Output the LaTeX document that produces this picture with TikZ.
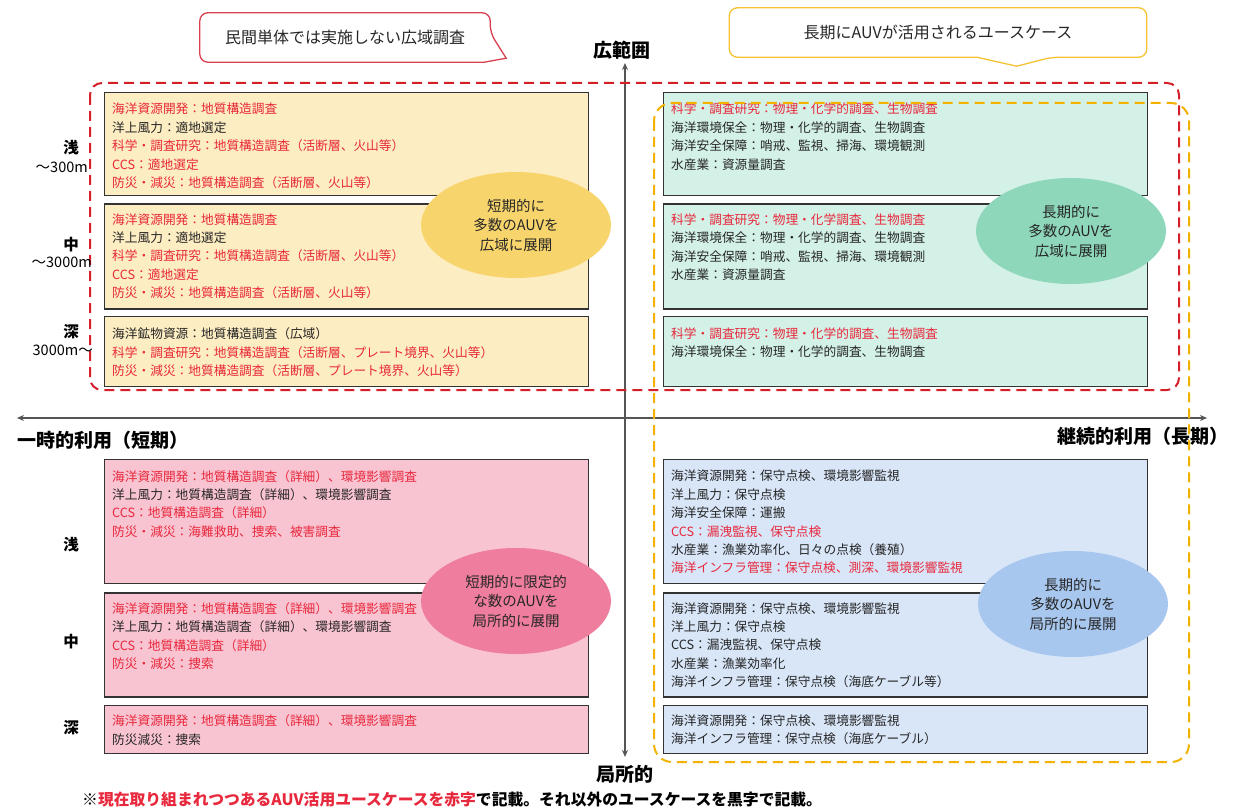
\documentclass[tikz,border=0pt]{standalone}
\usepackage{fontspec}
\setmainfont{Noto Sans CJK JP}
\usetikzlibrary{
  arrows.meta,
  positioning,
  shapes.geometric,
  calc
}
\usepackage{xcolor}
\definecolor{usered}{HTML}{E8283C}
\definecolor{dashred}{HTML}{D41F2B}
\definecolor{dashyel}{HTML}{F2B300}
\definecolor{boxline}{HTML}{333333}
\definecolor{txtgray}{HTML}{262626}
\definecolor{axisgray}{HTML}{555555}
\definecolor{yfill}{HTML}{FDEDC2}
\definecolor{gfill}{HTML}{D3F1E6}
\definecolor{pfill}{HTML}{F9C4D2}
\definecolor{bfill}{HTML}{D8E6F8}
\definecolor{yblob}{HTML}{F8D56C}
\definecolor{gblob}{HTML}{8ED7BB}
\definecolor{pblob}{HTML}{EF7E9E}
\definecolor{bblob}{HTML}{A8C7EF}
\definecolor{calred}{HTML}{D9404F}
\definecolor{calyel}{HTML}{F5C232}
\newcommand{\redtxt}[1]{\textcolor{usered}{#1}}

\begin{document}
\begin{tikzpicture}[
  x=1pt, y=-1pt,
  cell/.style={draw=boxline, line width=1.3pt, minimum width=484pt, inner sep=0pt,
    anchor=north west},
  list/.style={font=\fontsize{12.7}{18.4}\selectfont, text=txtgray, align=left,
    inner sep=0pt, anchor=north west},
  blob/.style={ellipse, minimum width=190pt, minimum height=106pt, inner sep=0pt,
    font=\fontsize{14.5}{19.5}\selectfont, align=center, text=txtgray},
  axis/.style={draw=axisgray, line width=1.3pt,
    {Stealth[length=7pt,width=6pt]}-{Stealth[length=7pt,width=6pt]}},
  axlabel/.style={font=\fontsize{19}{22}\selectfont\bfseries, inner sep=0pt},
  depth/.style={font=\fontsize{15.5}{17}\selectfont\bfseries, inner sep=0pt, anchor=east},
  meter/.style={font=\fontsize{14.5}{16}\selectfont, inner sep=0pt, anchor=east},
  region/.style={dash pattern=on 10pt off 6pt, line width=2pt},
  bubble/.style={font=\fontsize{16}{18}\selectfont, text=txtgray, inner sep=0pt}
]
  \useasboundingbox (0,0) rectangle (1236,810);

  % Axes
  \coordinate (top) at (625,63);
  \coordinate (bot) at (625,757);
  \coordinate (lft) at (17,418);
  \coordinate (rgt) at (1207,418);
  \draw[axis] (bot) -- (top);
  \draw[axis] (lft) -- (rgt);
  \node[axlabel] (wide) at (622,50) {広範囲};
  \node[axlabel] (local) at (625,774) {局所的};
  \node[axlabel, anchor=west] (short) at (17,440) {一時的利用（短期）};
  \node[axlabel, anchor=east] (long) at (1229,436) {継続的利用（長期）};

  % Upper left: short term, wide area
  \node[cell, fill=yfill, minimum height=103pt] (ul1) at (104,92) {};
  \node[cell, fill=yfill, minimum height=105pt, below right=7pt and 0pt of ul1.south west] (ul2) {};
  \node[cell, fill=yfill, minimum height=70pt, below right=6pt and 0pt of ul2.south west] (ul3) {};
  \node[list, below right=11pt and 8pt of ul1.north west] (ul1t) {
    \redtxt{海洋資源開発：地質構造調査}\\
    洋上風力：適地選定\\
    \redtxt{科学・調査研究：地質構造調査（活断層、火山等）}\\
    \redtxt{CCS：適地選定}\\
    \redtxt{防災・減災：地質構造調査（活断層、火山等）}};
  \node[list, below right=10pt and 8pt of ul2.north west] (ul2t) {
    \redtxt{海洋資源開発：地質構造調査}\\
    洋上風力：適地選定\\
    \redtxt{科学・調査研究：地質構造調査（活断層、火山等）}\\
    \redtxt{CCS：適地選定}\\
    \redtxt{防災・減災：地質構造調査（活断層、火山等）}};
  \node[list, below right=12pt and 8pt of ul3.north west] (ul3t) {
    海洋鉱物資源：地質構造調査（広域）\\
    \redtxt{科学・調査研究：地質構造調査（活断層、プレート境界、火山等）}\\
    \redtxt{防災・減災：地質構造調査（活断層、プレート境界、火山等）}};

  % Upper right: long term, wide area
  \node[cell, fill=gfill, minimum height=103pt] (ur1) at (663,92) {};
  \node[cell, fill=gfill, minimum height=105pt, below right=7pt and 0pt of ur1.south west] (ur2) {};
  \node[cell, fill=gfill, minimum height=70pt, below right=6pt and 0pt of ur2.south west] (ur3) {};
  \node[list, below right=11pt and 8pt of ur1.north west] (ur1t) {
    \redtxt{科学・調査研究：物理・化学的調査、生物調査}\\
    海洋環境保全：物理・化学的調査、生物調査\\
    海洋安全保障：哨戒、監視、掃海、環境観測\\
    水産業：資源量調査};
  \node[list, below right=10pt and 8pt of ur2.north west] (ur2t) {
    \redtxt{科学・調査研究：物理・化学調査、生物調査}\\
    海洋環境保全：物理・化学的調査、生物調査\\
    海洋安全保障：哨戒、監視、掃海、環境観測\\
    水産業：資源量調査};
  \node[list, below right=12pt and 8pt of ur3.north west] (ur3t) {
    \redtxt{科学・調査研究：物理・化学的調査、生物調査}\\
    海洋環境保全：物理・化学的調査、生物調査};

  % Lower left: short term, local
  \node[cell, fill=pfill, minimum height=124pt] (ll1) at (104,459) {};
  \node[cell, fill=pfill, minimum height=104pt, below right=8pt and 0pt of ll1.south west] (ll2) {};
  \node[cell, fill=pfill, minimum height=48pt, below right=7pt and 0pt of ll2.south west] (ll3) {};
  \node[list, below right=11pt and 8pt of ll1.north west] (ll1t) {
    \redtxt{海洋資源開発：地質構造調査（詳細）、環境影響調査}\\
    洋上風力：地質構造調査（詳細）、環境影響調査\\
    \redtxt{CCS：地質構造調査（詳細）}\\
    \redtxt{防災・減災：海難救助、捜索、被害調査}};
  \node[list, below right=10pt and 8pt of ll2.north west] (ll2t) {
    \redtxt{海洋資源開発：地質構造調査（詳細）、環境影響調査}\\
    洋上風力：地質構造調査（詳細）、環境影響調査\\
    \redtxt{CCS：地質構造調査（詳細）}\\
    \redtxt{防災・減災：捜索}};
  \node[list, below right=10pt and 8pt of ll3.north west] (ll3t) {
    \redtxt{海洋資源開発：地質構造調査（詳細）、環境影響調査}\\
    防災減災：捜索};

  % Lower right: long term, local
  \node[cell, fill=bfill, minimum height=124pt] (lr1) at (663,459) {};
  \node[cell, fill=bfill, minimum height=104pt, below right=8pt and 0pt of lr1.south west] (lr2) {};
  \node[cell, fill=bfill, minimum height=48pt, below right=7pt and 0pt of lr2.south west] (lr3) {};
  \node[list, below right=11pt and 8pt of lr1.north west] (lr1t) {
    海洋資源開発：保守点検、環境影響監視\\
    洋上風力：保守点検\\
    海洋安全保障：運搬\\
    \redtxt{CCS：漏洩監視、保守点検}\\
    水産業：漁業効率化、日々の点検（養殖）\\
    \redtxt{海洋インフラ管理：保守点検、測深、環境影響監視}};
  \node[list, below right=10pt and 8pt of lr2.north west] (lr2t) {
    海洋資源開発：保守点検、環境影響監視\\
    洋上風力：保守点検\\
    CCS：漏洩監視、保守点検\\
    水産業：漁業効率化\\
    海洋インフラ管理：保守点検（海底ケーブル等）};
  \node[list, below right=10pt and 8pt of lr3.north west] (lr3t) {
    海洋資源開発：保守点検、環境影響監視\\
    海洋インフラ管理：保守点検（海底ケーブル）};

  % Deployment ellipses
  \node[blob, fill=yblob] (yb) at (516,225) {短期的に\\多数のAUVを\\広域に展開};
  \node[blob, fill=gblob] (gb) at (1071,231) {長期的に\\多数のAUVを\\広域に展開};
  \node[blob, fill=pblob] (pb) at (516,601) {短期的に限定的\\な数のAUVを\\局所的に展開};
  \node[blob, fill=bblob] (bb) at (1073,604) {長期的に\\多数のAUVを\\局所的に展開};

  % Dashed regions
  \draw[region, draw=dashred, rounded corners=12pt] (90,83) rectangle (1179,390);
  \draw[region, draw=dashyel, rounded corners=18pt] (654,103) rectangle (1189,762);

  % Depth labels
  \node[depth] (d1) at (79,148) {浅};
  \node[meter] (m1) at (88,167) {～300m};
  \node[depth] (d2) at (79,245) {中};
  \node[meter] (m2) at (92,262) {～3000m};
  \node[depth] (d3) at (79,332) {深};
  \node[meter] (m3) at (93,350) {3000m～};
  \node[depth] (d4) at (79,545) {浅};
  \node[depth] (d5) at (79,642) {中};
  \node[depth] (d6) at (79,728) {深};

  % Callouts
  \node[bubble, minimum width=290pt, minimum height=49pt] (cr) at (345,37.5)
    {民間単体では実施しない広域調査};
  \draw[calred, line width=1.3pt, rounded corners=8pt]
    ([xshift=10pt]cr.south west) -- (cr.south west) -- (cr.north west)
    -- (cr.north east) -- ([yshift=-20pt]cr.north east) [sharp corners]
    -- ([xshift=16pt,yshift=4pt]cr.south east) -- ([xshift=-6pt]cr.south east)
    -- ([xshift=10pt]cr.south west);
  \node[bubble, minimum width=417pt, minimum height=49pt] (cy) at (938,32.5)
    {長期にAUVが活用されるユースケース};
  \draw[calyel, line width=1.3pt, rounded corners=8pt]
    ([xshift=10pt]cy.south west) -- (cy.south west) -- (cy.north west)
    -- (cy.north east) -- (cy.south east) -- ([xshift=-95pt]cy.south east)
    [sharp corners] -- ([xshift=-130pt,yshift=-9pt]cy.south east)
    -- ([xshift=-170pt]cy.south east) -- ([xshift=10pt]cy.south west);

  % Footnote
  \node[anchor=west, inner sep=0pt, font=\fontsize{15.8}{18}\selectfont\bfseries] (note) at (82,800)
    {※\redtxt{現在取り組まれつつあるAUV活用ユースケースを赤字}で記載。それ以外のユースケースを黒字で記載。};

\end{tikzpicture}
\end{document}
